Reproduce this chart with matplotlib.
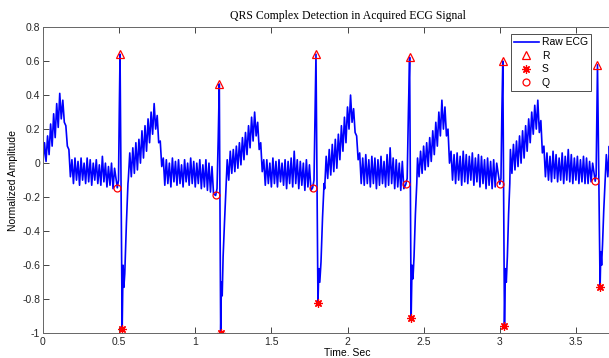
import matplotlib
matplotlib.use("Agg")
import matplotlib.pyplot as plt
import numpy as np

plt.rcParams.update({"font.family": "Liberation Sans", "font.size": 7.5,
                     "axes.unicode_minus": False})

# --- raw ECG: noisy background between QRS complexes, sampled every 10 ms ---
STEP = 0.01
bg_start = [0.00, 0.56, 1.21, 1.85, 2.46, 3.07, 3.70]
bg_vals = [
    [0.00, 0.12, 0.01, 0.16, 0.05, 0.23, 0.10, 0.29, 0.15, 0.35,
     0.21, 0.41, 0.26, 0.37, 0.24, 0.22, 0.10, 0.08, -0.08, 0.02,
     -0.12, 0.03, -0.10, 0.01, -0.13, 0.03, -0.10, 0.00, -0.12, 0.03,
     -0.11, 0.02, -0.13, 0.00, -0.10, 0.02, -0.12, -0.01, -0.13, 0.04,
     -0.11, 0.00, -0.14, -0.02, -0.13, 0.00, -0.15, -0.03],
    [-0.10, 0.06, -0.08, 0.09, -0.06, 0.12, -0.04, 0.14, 0.00, 0.19,
     0.03, 0.22, 0.07, 0.26, 0.12, 0.30, 0.17, 0.35, 0.20, 0.28,
     0.12, 0.13, -0.02, 0.03, -0.13, 0.02, -0.12, 0.00, -0.14, 0.03,
     -0.11, 0.01, -0.13, 0.02, -0.12, -0.01, -0.14, 0.02, -0.11, 0.00,
     -0.13, 0.03, -0.12, 0.01, -0.14, 0.00, -0.12, 0.02, -0.15, -0.01,
     -0.14, 0.02, -0.16, 0.00, -0.17, -0.02, -0.18],
    [0.02, -0.10, 0.07, -0.06, 0.08, -0.05, 0.10, -0.03, 0.12, -0.01,
     0.15, 0.02, 0.18, 0.05, 0.22, 0.09, 0.27, 0.13, 0.30, 0.16,
     0.24, 0.08, 0.12, -0.05, 0.02, -0.13, 0.02, -0.12, 0.00, -0.14,
     0.03, -0.12, 0.01, -0.14, 0.02, -0.11, 0.00, -0.13, 0.02, -0.15,
     0.01, -0.12, 0.03, -0.14, 0.07, -0.12, 0.02, -0.15, 0.01, -0.13,
     0.00, -0.16, 0.02, -0.14, -0.01, -0.16],
    [-0.15, 0.04, -0.09, 0.08, -0.07, 0.11, -0.05, 0.14, -0.03, 0.17,
     0.02, 0.22, 0.07, 0.27, 0.12, 0.33, 0.20, 0.40, 0.24, 0.32,
     0.18, 0.16, 0.02, 0.06, -0.12, 0.03, -0.13, 0.05, -0.12, 0.02,
     -0.14, 0.04, -0.12, 0.03, -0.15, 0.02, -0.13, 0.04, -0.12, 0.01,
     -0.14, 0.05, -0.13, 0.09, -0.12, 0.03, -0.15, 0.02, -0.14, 0.00,
     -0.16, 0.01, -0.15],
    [0.03, -0.08, 0.07, -0.06, 0.10, -0.04, 0.12, -0.02, 0.15, 0.01,
     0.19, 0.05, 0.24, 0.10, 0.30, 0.16, 0.37, 0.20, 0.33, 0.16,
     0.20, 0.00, 0.07, -0.10, 0.05, -0.12, 0.06, -0.10, 0.04, -0.13,
     0.07, -0.11, 0.05, -0.12, 0.04, -0.10, 0.06, -0.13, 0.03, -0.11,
     0.05, -0.14, 0.04, -0.12, 0.02, -0.15, 0.03, -0.13, 0.01, -0.15,
     0.02, -0.14, 0.00],
    [0.08, -0.06, 0.11, -0.04, 0.13, -0.02, 0.16, 0.00, 0.19, 0.03,
     0.22, 0.07, 0.26, 0.12, 0.30, 0.17, 0.34, 0.20, 0.37, 0.18,
     0.25, 0.06, 0.10, -0.08, 0.06, -0.10, 0.04, -0.11, 0.07, -0.09,
     0.05, -0.11, 0.03, -0.10, 0.06, -0.12, 0.04, -0.10, 0.08, -0.11,
     0.05, -0.12, 0.03, -0.10, 0.04, -0.12, 0.02, -0.11, 0.04, -0.12,
     0.03, -0.12, 0.01, -0.11, 0.00],
    [0.05, -0.08, 0.10, -0.05, 0.12],
]

# --- detected fiducial points ---
q_t = [0.488, 1.134, 1.771, 2.383, 3.000, 3.627]
q_v = [-0.145, -0.190, -0.145, -0.124, -0.124, -0.106]
r_t = [0.506, 1.158, 1.793, 2.408, 3.020, 3.642]
r_v = [0.640, 0.465, 0.640, 0.622, 0.600, 0.578]
s_t = [0.520, 1.167, 1.806, 2.418, 3.031, 3.659]
s_v = [-0.975, -1.000, -0.822, -0.908, -0.955, -0.729]

# R upstroke (between Q and R) and recovery after S
up_t = [[0.496, 0.501], [1.143, 1.151], [1.780, 1.787],
        [2.392, 2.400], [3.008, 3.014], [3.633, 3.638]]
up_v = [[-0.10, 0.30], [-0.15, 0.15], [-0.10, 0.30],
        [-0.09, 0.30], [-0.09, 0.30], [-0.07, 0.30]]
rec_t = [[0.526, 0.531, 0.537, 0.548, 0.558],
         [1.172, 1.177, 1.183, 1.192, 1.202],
         [1.812, 1.818, 1.826, 1.836, 1.846],
         [2.424, 2.430, 2.437, 2.446, 2.455],
         [3.037, 3.043, 3.050, 3.058, 3.066],
         [3.664, 3.669, 3.675, 3.683, 3.692]]
rec_v = [[-0.60, -0.73, -0.65, -0.35, -0.12],
         [-0.70, -0.78, -0.55, -0.35, -0.15],
         [-0.62, -0.70, -0.58, -0.32, -0.12],
         [-0.60, -0.68, -0.55, -0.30, -0.12],
         [-0.62, -0.70, -0.55, -0.30, -0.12],
         [-0.52, -0.60, -0.48, -0.28, -0.10]]

# assemble the raw trace
t_parts, v_parts = [], []
for start, vals in zip(bg_start, bg_vals):
    t_parts.append(start + STEP * np.arange(len(vals)))
    v_parts.append(np.asarray(vals))
for i in range(len(r_t)):
    t_parts.append(np.array([q_t[i], *up_t[i], r_t[i], s_t[i], *rec_t[i]]))
    v_parts.append(np.array([q_v[i], *up_v[i], r_v[i], s_v[i], *rec_v[i]]))
t = np.concatenate(t_parts)
v = np.concatenate(v_parts)
order = np.argsort(t)
t, v = t[order], v[order]

fig = plt.figure(figsize=(6.09, 3.58), dpi=100)
ax = fig.add_axes([43 / 609, 1 - 333.3 / 358, 1.0, (333.3 - 27) / 358])

ax.plot(t, v, color="b", lw=1.2, label="Raw ECG")
ax.plot(r_t, r_v, ls="none", marker="^", ms=6, mfc="none", mec="r", mew=0.9, label="R")
ax.plot(s_t, s_v, ls="none", marker=(8, 2, 0), ms=6, mec="r", mew=0.9, label="S")
ax.plot(q_t, q_v, ls="none", marker="o", ms=5, mfc="none", mec="r", mew=0.9, label="Q")

ax.set_xlim(0, 4)
ax.set_ylim(-1, 0.8)
ax.set_xticks([0, 0.5, 1, 1.5, 2, 2.5, 3, 3.5])
ax.set_xticklabels(["0", "0.5", "1", "1.5", "2", "2.5", "3", "3.5"])
ax.set_yticks(np.round(np.arange(-1, 0.81, 0.2), 1))
ax.set_yticklabels(["-1", "-0.8", "-0.6", "-0.4", "-0.2", "0", "0.2", "0.4", "0.6", "0.8"])
ax.tick_params(direction="in", top=True, right=True, length=4.3, width=0.6,
               colors="0.15", labelsize=7.5)
ax.tick_params(axis="x", pad=3)
ax.tick_params(axis="y", pad=2)
for sp in ax.spines.values():
    sp.set_color("0.4")
    sp.set_linewidth(0.7)

ax.set_xlabel("Time. Sec", fontsize=7.5)
ax.set_ylabel("Normalized Amplitude", fontsize=7.5)
ax.xaxis.set_label_coords(0.5, -0.064)
ax.xaxis.label.set_va("center")
ax.yaxis.set_label_coords(-0.05, 0.5)
ax.yaxis.label.set_va("center")
ax.set_title("QRS Complex Detection in Acquired ECG Signal", family="Liberation Serif",
             fontsize=8.5, y=1 + 11 / 306.3, va="center", pad=0)

leg = ax.legend(loc="upper left", bbox_to_anchor=(0.768, 0.977), borderaxespad=0,
                numpoints=1, fontsize=7.5, handlelength=2.4, handletextpad=0.3,
                borderpad=0.3, labelspacing=0.35, fancybox=False, framealpha=1)
leg.get_frame().set_edgecolor("0.3")
leg.get_frame().set_linewidth(0.7)

fig.savefig("out.png", dpi=100)
